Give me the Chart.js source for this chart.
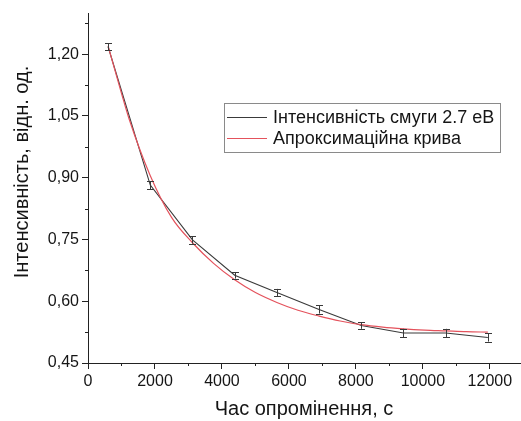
<!DOCTYPE html>
<html>
<head>
<meta charset="utf-8">
<script src="https://cdn.jsdelivr.net/npm/chart.js@4"></script>
<style>
html,body{margin:0;padding:0;background:#fff;}
#wrap{width:521px;height:421px;position:relative;}
</style>
</head>
<body>
<div id="wrap"><canvas id="c" width="521" height="421"></canvas></div>
<script>
// ---- data ----
const timeS      = [600, 1860, 3120, 4380, 5640, 6900, 8160, 9420, 10680, 11940];
const intensity  = [1.218, 0.882, 0.749, 0.663, 0.621, 0.580, 0.541, 0.523, 0.523, 0.512];
const errBars    = [0.009, 0.010, 0.009, 0.008, 0.009, 0.010, 0.008, 0.010, 0.010, 0.010];
const fitTime    = [600, 1000, 1230, 1860, 2500, 3120, 3750, 4380, 5000, 5640, 6270, 6900, 7530, 8160, 8800, 9420, 10050, 10680, 11300, 11940];
const fitValues  = [1.220, 1.105, 1.042, 0.905, 0.803, 0.742, 0.692, 0.652, 0.621, 0.597, 0.578, 0.564, 0.552, 0.543, 0.537, 0.533, 0.530, 0.528, 0.526, 0.525];
const xMajorTicks = [0, 2000, 4000, 6000, 8000, 10000, 12000];
const xMinorTicks = [1000, 3000, 5000, 7000, 9000, 11000];
const yMajorTicks = [0.45, 0.60, 0.75, 0.90, 1.05, 1.20];
const yMinorTicks = [0.525, 0.675, 0.825, 0.975, 1.125, 1.275];
const seriesLabels = ['Інтенсивність смуги 2.7 еВ', 'Апроксимаційна крива'];
const xTitle = 'Час опромінення, с';
const yTitle = 'Інтенсивність, відн. од.';

const FONT = '"Liberation Sans", Arial, sans-serif';
const TXT = '#151515';
const BLACK = '#3a3a3a';
const RED = '#e4525c';

const errorBarPlugin = {
  id: 'errorBars',
  afterDatasetsDraw(chart) {
    const ctx = chart.ctx, xs = chart.scales.x, ys = chart.scales.y;
    ctx.save();
    ctx.strokeStyle = BLACK;
    ctx.lineWidth = 1;
    for (let i = 0; i < timeS.length; i++) {
      const px = Math.round(xs.getPixelForValue(timeS[i])) + 0.5;
      const yt = ys.getPixelForValue(intensity[i] + errBars[i]);
      const yb = ys.getPixelForValue(intensity[i] - errBars[i]);
      ctx.beginPath();
      ctx.moveTo(px, yt); ctx.lineTo(px, yb);
      ctx.moveTo(px - 3.5, Math.round(yt) + 0.5); ctx.lineTo(px + 3.5, Math.round(yt) + 0.5);
      ctx.moveTo(px - 3.5, Math.round(yb) + 0.5); ctx.lineTo(px + 3.5, Math.round(yb) + 0.5);
      ctx.stroke();
    }
    ctx.restore();
  }
};

const minorTickPlugin = {
  id: 'minorTicks',
  afterDraw(chart) {
    const ctx = chart.ctx, xs = chart.scales.x, ys = chart.scales.y;
    const a = chart.chartArea;
    ctx.save();
    ctx.strokeStyle = '#222';
    ctx.lineWidth = 1;
    ctx.beginPath();
    xMinorTicks.forEach(v => {
      const px = Math.round(xs.getPixelForValue(v)) + 0.5;
      ctx.moveTo(px, a.bottom); ctx.lineTo(px, a.bottom + 3);
    });
    yMinorTicks.forEach(v => {
      const py = Math.round(ys.getPixelForValue(v)) + 0.5;
      ctx.moveTo(a.left, py); ctx.lineTo(a.left - 3, py);
    });
    ctx.stroke();
    // y axis title, placed as in the reference
    ctx.font = '20px ' + FONT;
    ctx.fillStyle = TXT;
    ctx.textAlign = 'center';
    ctx.textBaseline = 'middle';
    ctx.translate(22, 172);
    ctx.rotate(-Math.PI / 2);
    ctx.fillText(yTitle, 0, 0);
    ctx.restore();
  }
};

const legendPlugin = {
  id: 'boxLegend',
  afterDraw(chart) {
    const ctx = chart.ctx;
    const bx = 224, by = 103, bw = 276, bh = 49;
    ctx.save();
    ctx.strokeStyle = '#8a8a8a';
    ctx.lineWidth = 1;
    ctx.strokeRect(bx + 0.5, by + 0.5, bw, bh);
    const ds = chart.data.datasets;
    const rows = [117, 138];
    ctx.font = '18px ' + FONT;
    ctx.fillStyle = TXT;
    ctx.textBaseline = 'middle';
    ds.forEach((d, i) => {
      ctx.strokeStyle = d.borderColor;
      ctx.lineWidth = 1.2;
      ctx.beginPath();
      ctx.moveTo(bx + 3, rows[i] + 0.5); ctx.lineTo(bx + 43, rows[i] + 0.5);
      ctx.stroke();
      ctx.fillText(d.label, bx + 49, rows[i] + 1);
    });
    ctx.restore();
  }
};

const chart = new Chart(document.getElementById('c'), {
  type: 'line',
  data: {
    datasets: [
      {
        label: seriesLabels[0],
        data: timeS.map((t, i) => ({ x: t, y: intensity[i] })),
        borderColor: BLACK,
        backgroundColor: BLACK,
        borderWidth: 1.1,
        pointRadius: 0,
        tension: 0,
        order: 1
      },
      {
        label: seriesLabels[1],
        data: fitTime.map((t, i) => ({ x: t, y: fitValues[i] })),
        borderColor: RED,
        backgroundColor: RED,
        borderWidth: 1.2,
        pointRadius: 0,
        cubicInterpolationMode: 'monotone',
        order: 0
      }
    ]
  },
  options: {
    responsive: false,
    animation: false,
    devicePixelRatio: 1,
    layout: { padding: { top: 13, right: 1, left: 0, bottom: 0 } },
    plugins: { legend: { display: false }, tooltip: { enabled: false } },
    scales: {
      x: {
        type: 'linear',
        min: 0,
        max: 12900,
        afterFit(s) { s.height = 58; },
        afterBuildTicks(s) { s.ticks = xMajorTicks.map(v => ({ value: v })); },
        ticks: {
          autoSkip: false,
          maxRotation: 0,
          padding: 3,
          color: TXT,
          font: { family: FONT, size: 16 },
          callback: v => String(v)
        },
        grid: { drawOnChartArea: false, drawTicks: true, tickLength: 6, tickColor: '#222', tickWidth: 1 },
        border: { display: true, color: '#222', width: 1 },
        title: {
          display: true,
          text: xTitle,
          color: TXT,
          font: { family: FONT, size: 20 },
          padding: { top: 0, bottom: 0 }
        }
      },
      y: {
        type: 'linear',
        min: 0.45,
        max: 1.30,
        afterFit(s) { s.width = 88; },
        afterBuildTicks(s) { s.ticks = yMajorTicks.map(v => ({ value: v })); },
        ticks: {
          autoSkip: false,
          padding: 3,
          color: TXT,
          font: { family: FONT, size: 16 },
          callback: v => Number(v).toFixed(2).replace('.', ',')
        },
        grid: { drawOnChartArea: false, drawTicks: true, tickLength: 6, tickColor: '#222', tickWidth: 1 },
        border: { display: true, color: '#222', width: 1 },
        title: { display: false }
      }
    }
  },
  plugins: [errorBarPlugin, minorTickPlugin, legendPlugin]
});
</script>
</body>
</html>
